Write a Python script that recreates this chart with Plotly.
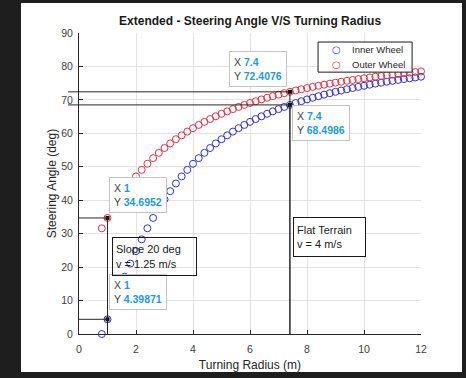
import plotly.graph_objects as go

# turning radius (m) and steering angles (deg)
radius = [0.8, 1.0, 1.2, 1.4, 1.6, 1.8, 2.0, 2.2, 2.4, 2.6, 2.8, 3.0, 3.2, 3.4, 3.6,
          3.8, 4.0, 4.2, 4.4, 4.6, 4.8, 5.0, 5.2, 5.4, 5.6, 5.8, 6.0, 6.2, 6.4, 6.6,
          6.8, 7.0, 7.2, 7.4, 7.6, 7.8, 8.0, 8.2, 8.4, 8.6, 8.8, 9.0, 9.2, 9.4, 9.6,
          9.8, 10.0, 10.2, 10.4, 10.6, 10.8, 11.0, 11.2, 11.4, 11.6, 11.8, 12.0]

inner_angle = [0.0, 4.40, 8.75, 13.00, 17.10, 21.04, 24.78, 28.30, 31.61, 34.70,
               37.57, 40.23, 42.71, 45.00, 47.12, 49.08, 50.90, 52.59, 54.16, 55.61,
               56.98, 58.24, 59.41, 60.52, 61.55, 62.52, 63.43, 64.28, 65.09, 65.85,
               66.56, 67.24, 67.89, 68.50, 69.07, 69.61, 70.14, 70.63, 71.11, 71.57,
               72.00, 72.41, 72.80, 73.18, 73.54, 73.89, 74.22, 74.54, 74.85, 75.14,
               75.43, 75.70, 75.96, 76.22, 76.47, 76.70, 76.93]

outer_angle = [31.61, 34.70, 37.57, 40.23, 42.71, 45.00, 47.12, 49.08, 50.90, 52.59,
               54.16, 55.61, 56.98, 58.24, 59.41, 60.52, 61.55, 62.52, 63.43, 64.28,
               65.09, 65.85, 66.56, 67.24, 67.89, 68.50, 69.07, 69.61, 70.14, 70.63,
               71.11, 71.57, 72.00, 72.41, 72.80, 73.18, 73.54, 73.89, 74.22, 74.54,
               74.85, 75.14, 75.43, 75.70, 75.96, 76.22, 76.47, 76.70, 76.93, 77.15,
               77.37, 77.57, 77.77, 77.97, 78.16, 78.34, 78.52]

# data tips
tip_x = [1, 1, 7.4, 7.4]
tip_y = [34.6952, 4.39871, 72.4076, 68.4986]
tip_labels = ["1", "1", "7.4", "7.4"]
tip_values = ["34.6952", "4.39871", "72.4076", "68.4986"]

series_names = ["Inner Wheel", "Outer Wheel"]

FONT = "Arial, Liberation Sans, sans-serif"
BLUE = "rgb(50,50,200)"
RED = "rgb(222,50,70)"
TIP = "#1e9ad8"
DARK = "#262626"

fig = go.Figure()

fig.add_trace(go.Scatter(
    x=radius, y=inner_angle, name=series_names[0], mode="markers",
    marker=dict(symbol="circle-open", size=7, color=BLUE, line=dict(width=1)),
    cliponaxis=False,
))
fig.add_trace(go.Scatter(
    x=radius, y=outer_angle, name=series_names[1], mode="markers",
    marker=dict(symbol="circle-open", size=7, color=RED, line=dict(width=1)),
    cliponaxis=False,
))

shapes = [
    # white panel inside the dark frame
    dict(type="rect", xref="paper", yref="paper", x0=-0.1696, x1=1.1199,
         y0=-0.1262, y1=1.0997, fillcolor="white", line=dict(width=0), layer="below"),
    # legend box
    dict(type="rect", xref="paper", yref="paper", x0=0.699, x1=0.974,
         y0=0.870, y1=0.970, fillcolor="white", line=dict(color="#1a1a1a", width=1),
         layer="above"),
]
# guide lines to the data tips
for x, y in zip(tip_x, tip_y):
    shapes.append(dict(type="line", xref="x", yref="y", x0=0, x1=x, y0=y, y1=y,
                       line=dict(color=DARK, width=1)))
    shapes.append(dict(type="line", xref="x", yref="y", x0=x, x1=x, y0=0, y1=y,
                       line=dict(color=DARK, width=1)))
    if x > 5:
        shapes.append(dict(type="line", xref="paper", yref="y", x0=-0.032, x1=0,
                           y0=y, y1=y, line=dict(color=DARK, width=1)))

fig.add_trace(go.Scatter(
    x=tip_x, y=tip_y, mode="markers", showlegend=False, hoverinfo="skip",
    marker=dict(symbol="square", size=4, color="black"),
))

annotations = []
tip_pos = [
    dict(xanchor="left", yanchor="bottom", xshift=1, yshift=5),
    dict(xanchor="left", yanchor="bottom", xshift=1, yshift=9),
    dict(xanchor="right", yanchor="bottom", xshift=-3, yshift=5),
    dict(xanchor="left", yanchor="top", xshift=2, yshift=0),
]
for x, y, lx, ly, pos in zip(tip_x, tip_y, tip_labels, tip_values, tip_pos):
    annotations.append(dict(
        x=x, y=y, xref="x", yref="y", showarrow=False, align="left",
        text=(f"X <b><span style='color:{TIP}'>{lx}</span></b><br>"
              f"Y <b><span style='color:{TIP}'>{ly}</span></b>"),
        font=dict(family=FONT, size=10.5, color="#404040"),
        bgcolor="rgba(255,255,255,0.96)", bordercolor="#c4c4c4", borderwidth=1,
        borderpad=4, **pos,
    ))

# text boxes
annotations.append(dict(
    x=0.0965, y=0.322, xref="paper", yref="paper", xanchor="left", yanchor="top",
    showarrow=False, align="left", valign="middle", text="Slope 20 deg<br>v = 1.25 m/s",
    font=dict(family=FONT, size=11, color="#1a1a1a"), width=77, height=31,
    bordercolor="#1a1a1a", borderwidth=1, borderpad=3,
))
annotations.append(dict(
    x=0.626, y=0.389, xref="paper", yref="paper", xanchor="left", yanchor="top",
    showarrow=False, align="left", valign="middle", text="Flat Terrain<br>v = 4 m/s",
    font=dict(family=FONT, size=11, color="#1a1a1a"), width=65, height=32,
    bgcolor="white", bordercolor="#1a1a1a", borderwidth=1, borderpad=3,
))

# legend entries
for name, color, ly in zip(series_names, [BLUE, RED], [0.944, 0.897]):
    annotations.append(dict(
        x=0.752, y=ly, xref="paper", yref="paper", xanchor="center", yanchor="middle",
        showarrow=False, text="○", font=dict(family="DejaVu Sans", size=10, color=color),
    ))
    annotations.append(dict(
        x=0.792, y=ly, xref="paper", yref="paper", xanchor="left", yanchor="middle",
        showarrow=False, text=name, font=dict(family=FONT, size=9.5, color="#262626"),
    ))

axis_style = dict(
    showgrid=True, gridcolor="#e3e3e3", gridwidth=1, zeroline=False,
    showline=True, linecolor=DARK, linewidth=1, automargin=False,
    ticks="inside", ticklen=4, tickcolor=DARK,
    tickfont=dict(family=FONT, size=10.5, color="#404040"),
)

fig.update_xaxes(range=[0, 12], tick0=0, dtick=2, ticklabelstandoff=5,
                 title=dict(text="Turning Radius (m)", standoff=7,
                            font=dict(family=FONT, size=12, color="#262626")),
                 **axis_style)
fig.update_yaxes(range=[0, 90], tick0=0, dtick=10, ticklabelstandoff=3,
                 title=dict(text="Steering Angle (deg)", standoff=2,
                            font=dict(family=FONT, size=12, color="#262626")),
                 **axis_style)

fig.update_layout(
    width=466, height=378,
    margin=dict(l=79, r=45, t=33, b=44),
    paper_bgcolor="#1e1e1e",
    plot_bgcolor="white",
    title=dict(text="<b>Extended - Steering Angle V/S Turning Radius</b>",
               x=0.5366, xanchor="center", y=0.945, yanchor="middle",
               font=dict(family=FONT, size=12, color="#1a1a1a")),
    shapes=shapes,
    annotations=annotations,
    showlegend=False,
)

fig.write_html("out.html", config={"displayModeBar": False},
               post_script="document.body.style.margin='0px';")
